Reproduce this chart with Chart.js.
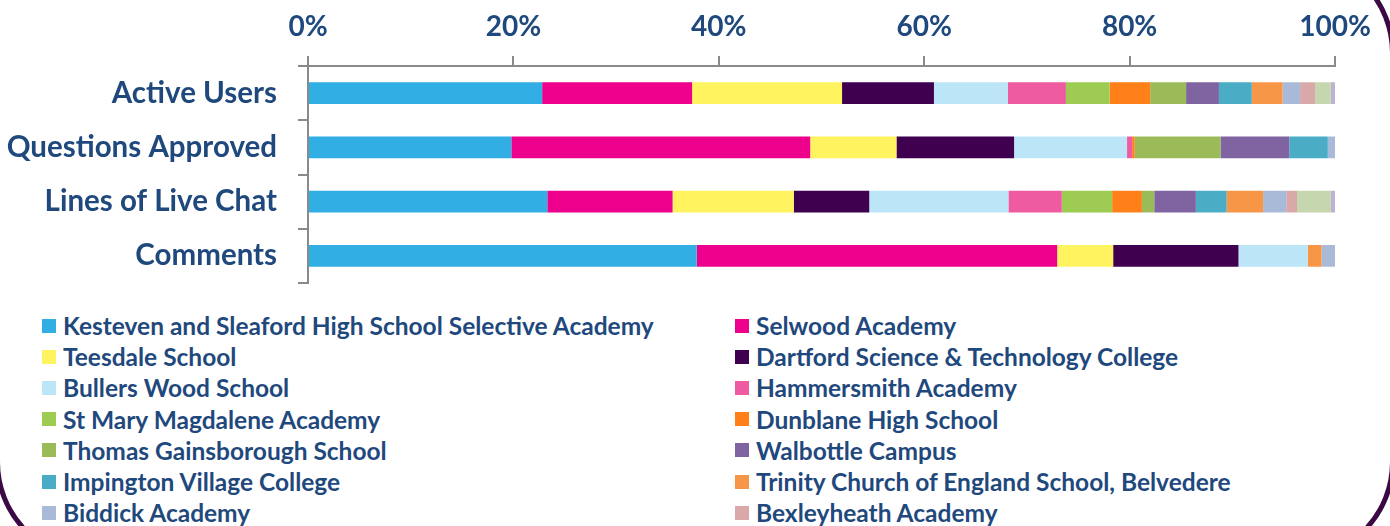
<!DOCTYPE html>
<html>
<head>
<meta charset="utf-8">
<script src="https://cdn.jsdelivr.net/npm/chart.js@4/dist/chart.umd.min.js"></script>
<style>
  html, body { margin: 0; padding: 0; background: #fff; overflow: hidden; }
  body { width: 1390px; height: 526px; position: relative; font-family: Lato, sans-serif; }
  #frame {
    position: absolute; left: -5px; top: -47px; width: 1390px; height: 599px;
    border: 5px solid #3b0a45; border-radius: 0 100px 100px 100px;
  }
  #wrap { position: absolute; left: 0; top: 0; width: 1390px; height: 300px; }
  #legend {
    position: absolute; left: 42px; top: 310px;
    display: grid; grid-template-columns: 693px auto; grid-auto-rows: 31.2px;
    font: bold 24.5px Lato, sans-serif; color: #1F497D;
  }
  .item { display: flex; align-items: center; white-space: nowrap; }
  .swatch { width: 14px; height: 14px; margin-right: 7px; flex: none; }
</style>
</head>
<body>
<div id="frame"></div>
<div id="wrap"><canvas id="chart" width="1390" height="300"></canvas></div>
<div id="legend"></div>
<script>
// categories (top to bottom)
const categories = ['Active Users', 'Questions Approved', 'Lines of Live Chat', 'Comments'];
const tickValues = [0, 20, 40, 60, 80, 100];

// share of each school per category, in percent
const kesteven    = [22.8, 19.8, 23.3, 37.85];
const selwood     = [14.6, 29.1, 12.2, 35.1];
const teesdale    = [14.6, 8.4, 11.8, 5.45];
const dartford    = [8.95, 11.45, 7.35, 12.2];
const bullersWood = [7.2, 11.0, 13.55, 6.75];
const hammersmith = [5.65, 0.5, 5.2, 0];
const stMary      = [4.25, 0, 4.9, 0];
const dunblane    = [3.95, 0.25, 2.9, 0];
const thomasG     = [3.5, 8.35, 1.2, 0];
const walbottle   = [3.2, 6.7, 4.05, 0];
const impington   = [3.2, 3.75, 3.0, 0];
const trinity     = [3.0, 0, 3.55, 1.35];
const biddick     = [1.7, 0.75, 2.25, 1.3];
const bexleyheath = [1.45, 0, 1.05, 0];
// last two schools: their legend rows are cut off in the source
const school15    = [1.55, 0, 3.3, 0];
const school16    = [0.4, 0, 0.45, 0];

const series = [
  { label: 'Kesteven and Sleaford High School Selective Academy', data: kesteven, color: '#31AEE3' },
  { label: 'Selwood Academy', data: selwood, color: '#EC008C' },
  { label: 'Teesdale School', data: teesdale, color: '#FFF35F' },
  { label: 'Dartford Science & Technology College', data: dartford, color: '#3F0050' },
  { label: 'Bullers Wood School', data: bullersWood, color: '#BDE5F8' },
  { label: 'Hammersmith Academy', data: hammersmith, color: '#EF5BA1' },
  { label: 'St Mary Magdalene Academy', data: stMary, color: '#9ECB52' },
  { label: 'Dunblane High School', data: dunblane, color: '#FF7F18' },
  { label: 'Thomas Gainsborough School', data: thomasG, color: '#9BBB59' },
  { label: 'Walbottle Campus', data: walbottle, color: '#8064A2' },
  { label: 'Impington Village College', data: impington, color: '#4BACC6' },
  { label: 'Trinity Church of England School, Belvedere', data: trinity, color: '#F79646' },
  { label: 'Biddick Academy', data: biddick, color: '#A9BAD8' },
  { label: 'Bexleyheath Academy', data: bexleyheath, color: '#D9A9A9' },
  { label: '', data: school15, color: '#C6D6AE', hideLegend: true },
  { label: '', data: school16, color: '#BBB3D3', hideLegend: true },
];

const textColor = '#1F497D';
const axisColor = '#8A8A8A';

new Chart(document.getElementById('chart'), {
  type: 'bar',
  data: {
    labels: categories,
    datasets: series.map(s => ({
      label: s.label,
      data: s.data,
      backgroundColor: s.color,
      borderWidth: 0,
      barPercentage: 0.4,
      categoryPercentage: 1,
    })),
  },
  options: {
    indexAxis: 'y',
    responsive: false,
    animation: false,
    layout: { padding: { left: 0, right: 55, top: 0, bottom: 17 } },
    plugins: { legend: { display: false }, tooltip: { enabled: false } },
    scales: {
      x: {
        position: 'top',
        stacked: true,
        min: 0,
        max: 100,
        afterBuildTicks: (scale) => { scale.ticks = tickValues.map(v => ({ value: v })); },
        afterFit: (scale) => { scale.height = 66; },
        ticks: {
          callback: (v) => v + '%',
          color: textColor,
          padding: 12,
          font: { family: 'Lato', size: 28, weight: 'bold' },
        },
        grid: { drawOnChartArea: false, color: axisColor, lineWidth: 2, tickLength: 10 },
        border: { color: axisColor, width: 2 },
      },
      y: {
        stacked: true,
        afterFit: (scale) => {
          scale.width = 308;
          scale.paddingTop = 0;
          scale.paddingBottom = 0;
        },
        ticks: {
          color: textColor,
          padding: 21,
          font: { family: 'Lato', size: 29.5, weight: 'bold' },
        },
        grid: { drawOnChartArea: false, offset: true, color: axisColor, lineWidth: 2, tickLength: 10 },
        border: { color: axisColor, width: 2 },
      },
    },
  },
});

// two-column legend
const legend = document.getElementById('legend');
series.filter(s => !s.hideLegend).forEach(s => {
  const item = document.createElement('div');
  item.className = 'item';
  const sw = document.createElement('span');
  sw.className = 'swatch';
  sw.style.background = s.color;
  const txt = document.createElement('span');
  txt.textContent = s.label;
  item.appendChild(sw);
  item.appendChild(txt);
  legend.appendChild(item);
});
</script>
</body>
</html>
